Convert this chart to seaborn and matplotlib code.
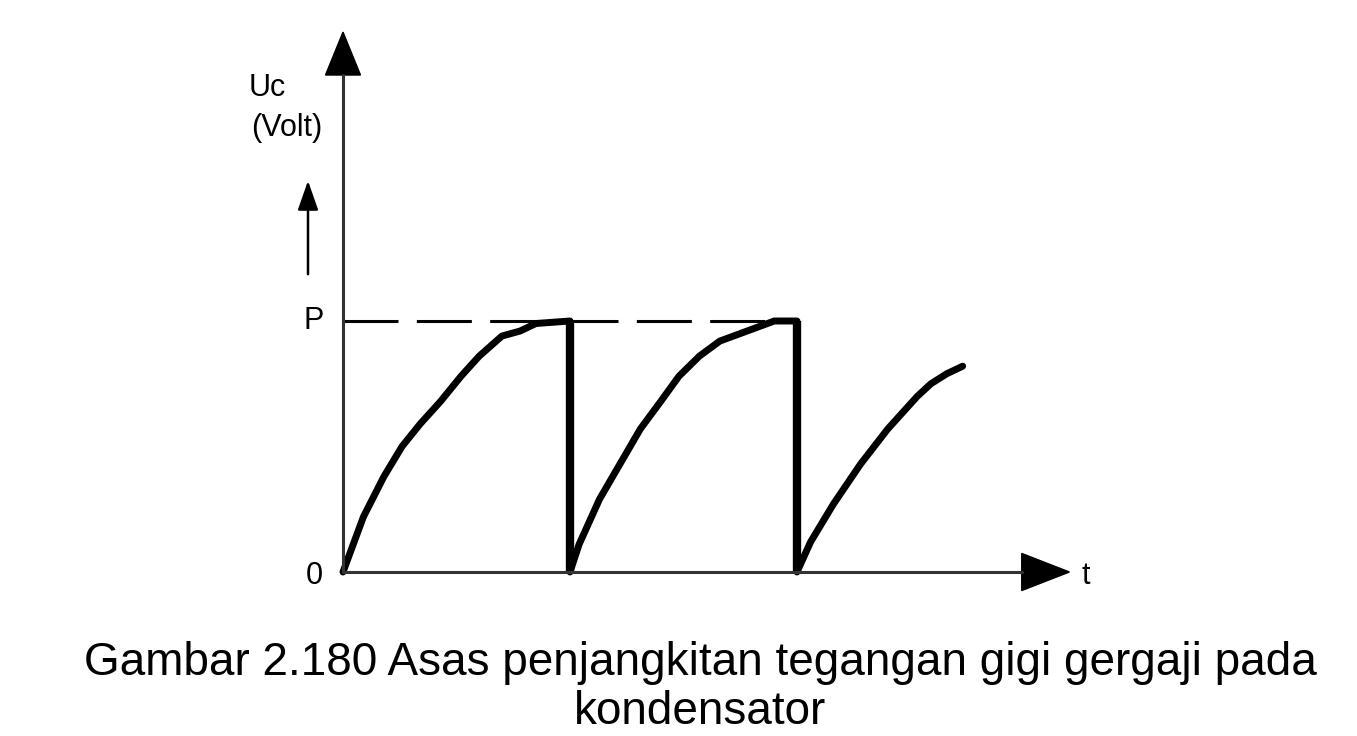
import matplotlib
matplotlib.use("Agg")
import matplotlib.pyplot as plt
import seaborn as sns
import pandas as pd

# time in tenths of one charging period, Uc in % of the peak level P
t_charge1 = [0, 0.9, 1.8, 2.6, 3.4, 4.3, 5.2, 6.0, 7.0, 7.8, 8.5, 10.0]
uc_charge1 = [0, 22, 38, 50, 59, 68, 78, 86, 94, 96, 99, 100]
t_charge2 = [10.0, 10.4, 11.3, 12.2, 13.1, 14.0, 14.8, 15.7, 16.6, 17.5, 18.4, 19.0, 20.0]
uc_charge2 = [0, 11, 29, 43, 57, 68, 78, 86, 92, 95, 98, 100, 100]
t_charge3 = [20.0, 20.6, 21.0, 21.6, 22.2, 22.8, 23.4, 24.0, 24.6, 25.3, 25.9, 26.6, 27.3]
uc_charge3 = [0, 12, 18, 27, 35, 43, 50, 57, 63, 70, 75, 79, 82]
t_discharge = [10.0, 20.0]
peak_level = 100
t_peak_end = 20.0

caption = ["Gambar 2.180 Asas penjangkitan tegangan gigi gergaji pada", "kondensator"]

W, H = 1357, 736


def px(x, y):
    # pixel position -> figure fraction
    return x / W, 1 - y / H


sns.set_style("white")
plt.rcParams['font.family'] = ['Liberation Sans', 'DejaVu Sans']
plt.rcParams['text.color'] = 'black'

fig = plt.figure(figsize=(W / 100, H / 100), dpi=100)
ax = fig.add_axes([0, 0, 1, 1])
ax.set_xlim(-343 / 22.7, (W - 343) / 22.7)
ax.set_ylim((572 - H) / 2.51, 572 / 2.51)
ax.axis("off")

# === charging curves ===
frames = []
for i, (t, u) in enumerate([(t_charge1, uc_charge1), (t_charge2, uc_charge2), (t_charge3, uc_charge3)]):
    frames.append(pd.DataFrame({"t": t, "uc": u, "seg": i}))
curves = pd.concat(frames, ignore_index=True)
sns.lineplot(data=curves, x="t", y="uc", units="seg", estimator=None, sort=False,
             color="black", lw=5, ax=ax, legend=False,
             solid_capstyle="round", solid_joinstyle="round")

# discharge (vertical drops)
ax.vlines(t_discharge, 0, peak_level, color="black", lw=6)

# dashed P level
ax.plot([0, t_peak_end], [peak_level, peak_level], color="black", lw=2.2, dashes=[18, 6])

# === axes with arrows ===
ax.plot([0, 0], [0, 198], color="#333333", lw=2.2)
ax.fill([-0.77, 0.77, 0], [198, 198, 215.1], color="black")
ax.plot([0, 29.9], [0, 0], color="#333333", lw=2.2)
ax.fill([29.9, 29.9, 32.0], [-7.4, 7.4, 0], color="black")

# labels
fig.text(*px(249, 88), "Uc", ha="left", va="center", fontsize=22)
fig.text(*px(322, 128), "(Volt)", ha="right", va="center", fontsize=22)
ax.annotate("", xy=px(308, 178), xytext=px(308, 277), xycoords="figure fraction",
            textcoords="figure fraction",
            arrowprops=dict(arrowstyle="-|>,head_length=0.4,head_width=0.14",
                            color="black", lw=1.8, mutation_scale=45))
fig.text(*px(324, 321), "P", ha="right", va="center", fontsize=22)
fig.text(*px(314, 576), "0", ha="center", va="center", fontsize=22)
fig.text(*px(1086, 576), "t", ha="center", va="center", fontsize=22)

fig.text(*px(700, 675), caption[0], ha="center", va="baseline", fontsize=33)
fig.text(*px(700, 724), caption[1], ha="center", va="baseline", fontsize=33)

fig.savefig("out.png", dpi=100, facecolor="white")
